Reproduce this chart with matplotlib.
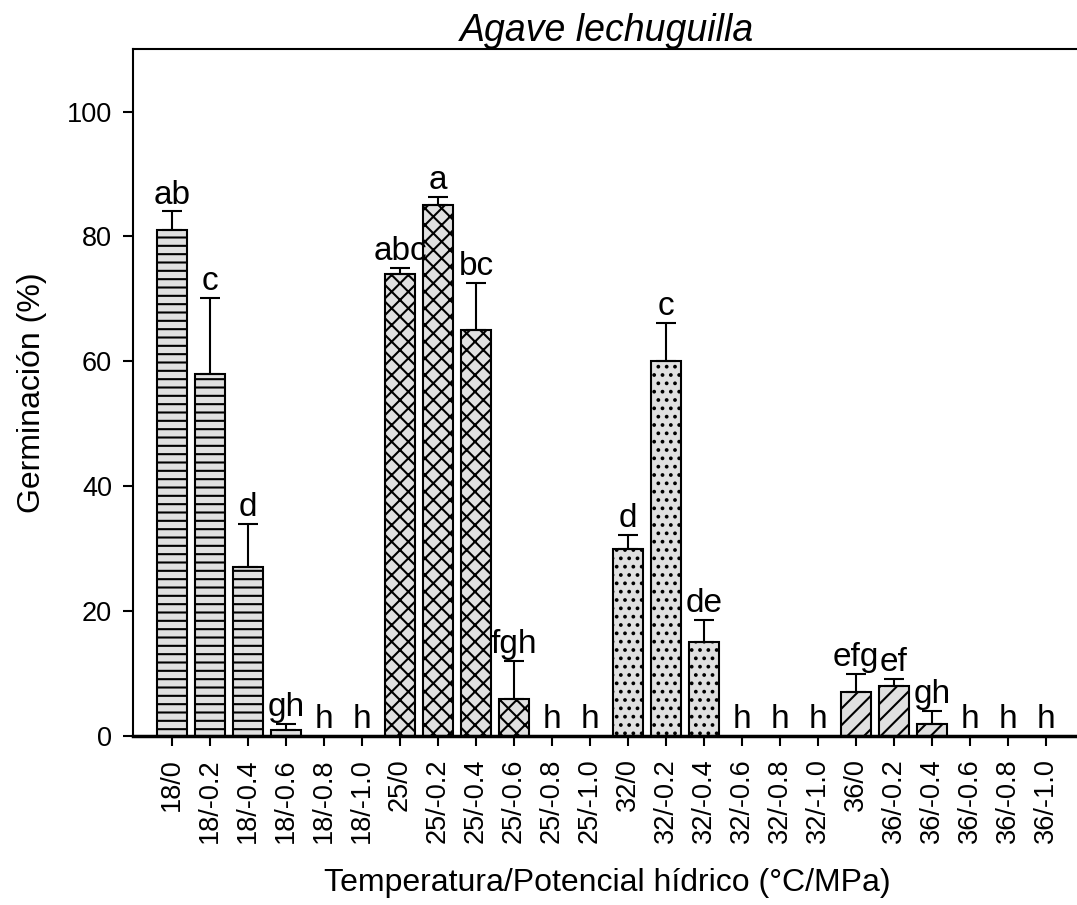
import numpy as np
import matplotlib.pyplot as plt

plt.rcParams['font.family'] = ['Liberation Sans', 'DejaVu Sans']
plt.rcParams['hatch.linewidth'] = 1.5

labels = ['18/0', '18/-0.2', '18/-0.4', '18/-0.6', '18/-0.8', '18/-1.0',
          '25/0', '25/-0.2', '25/-0.4', '25/-0.6', '25/-0.8', '25/-1.0',
          '32/0', '32/-0.2', '32/-0.4', '32/-0.6', '32/-0.8', '32/-1.0',
          '36/0', '36/-0.2', '36/-0.4', '36/-0.6', '36/-0.8', '36/-1.0']
germ = [81, 58, 27, 1, 0, 0,
        74, 85, 65, 6, 0, 0,
        30, 60, 15, 0, 0, 0,
        7, 8, 2, 0, 0, 0]
err = [3, 12.2, 7, 1, 0, 0,
       1, 1.4, 7.6, 6, 0, 0,
       2.2, 6.2, 3.6, 0, 0, 0,
       3, 1.2, 2, 0, 0, 0]
letters = ['ab', 'c', 'd', 'gh', 'h', 'h',
           'abc', 'a', 'bc', 'fgh', 'h', 'h',
           'd', 'c', 'de', 'h', 'h', 'h',
           'efg', 'ef', 'gh', 'h', 'h', 'h']
hatches = ['--', 'xx', '..', '//']

fig = plt.figure(figsize=(10.77, 9.05), dpi=100)
ax = fig.add_axes([0.1235, 0.1867, 0.880, 0.759])

x = np.arange(len(germ))
for i in range(len(germ)):
    if germ[i] > 0:
        ax.bar(x[i], germ[i], width=0.8, color='#e0e0e0', edgecolor='black',
               linewidth=1.5, hatch=hatches[i // 6], zorder=2)
        if err[i] > 0:
            ax.errorbar(x[i], germ[i], yerr=[[0], [err[i]]], fmt='none',
                        ecolor='black', elinewidth=1.5, capsize=7,
                        capthick=1.5, zorder=3)
    ax.annotate(letters[i], (x[i], germ[i] + err[i]), xytext=(0, 0.5),
                textcoords='offset points', ha='center', va='bottom',
                fontsize=24)

ax.set_xlim(-1.026, 23.92)
ax.set_ylim(0, 110)
ax.set_xticks(x)
ax.set_xticklabels(labels, rotation=90, fontsize=19.5)
ax.set_yticks([0, 20, 40, 60, 80, 100])
ax.tick_params(axis='y', labelsize=19.5, length=7, width=1.5, pad=8)
ax.tick_params(axis='x', length=7, width=1.5, pad=9)
ax.spines['right'].set_visible(False)
ax.spines['top'].set_linewidth(1.5)
ax.spines['left'].set_linewidth(1.5)
ax.spines['bottom'].set_linewidth(2.5)
ax.set_ylabel('Germinación (%)', fontsize=23, labelpad=14)
ax.set_xlabel('Temperatura/Potencial hídrico (°C/MPa)', fontsize=23, labelpad=18)
ax.set_title('Agave lechuguilla', fontsize=27, style='italic', pad=3)

fig.savefig('out.png', dpi=100)
